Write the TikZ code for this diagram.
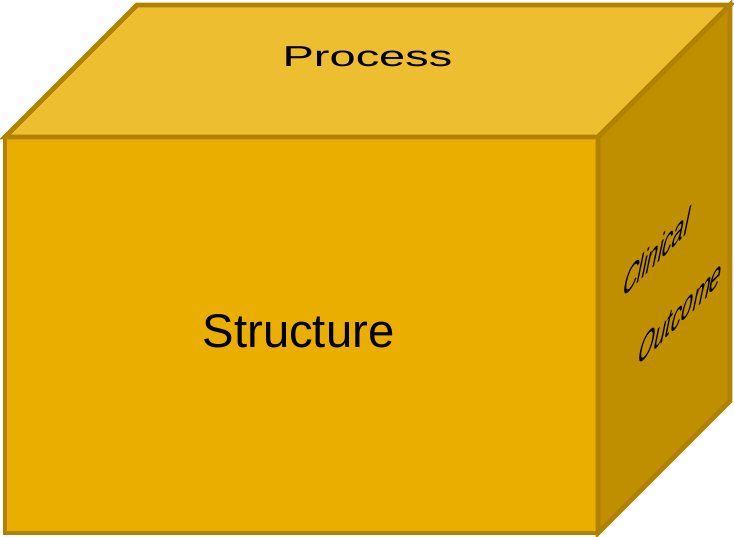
\documentclass[tikz,border=0pt]{standalone}
\usepackage{fontspec}
\setmainfont{Liberation Sans}
\usetikzlibrary{positioning}
\definecolor{cubeedge}{RGB}{176,130,0}
\definecolor{cubefront}{RGB}{234,174,0}
\definecolor{cubetop}{RGB}{237,190,48}
\definecolor{cubeside}{RGB}{191,143,0}

\begin{document}
\begin{tikzpicture}[x=0.02cm, y=-0.02cm, line join=miter,
    face/.style={draw=cubeedge, line width=2.8pt},
    sidetext/.style={font=\fontsize{20}{24}\selectfont, inner sep=0pt,
      cm={0.58,0.58,0.25,1.2,(0,0)}}]
  \useasboundingbox (0,0) rectangle (734,537);
  % corners, 1 unit = 1 px, depth offset (132,-132)
  \coordinate (ftl) at (5,137);
  \coordinate (ftr) at (598,137);
  \coordinate (fbr) at (598,533);
  \coordinate (fbl) at (5,533);
  \coordinate (btl) at (137,5);
  \coordinate (btr) at (730,5);
  \coordinate (bbr) at (730,401);
  \draw[face, fill=cubefront] (ftl) -- (ftr) -- (fbr) -- (fbl) -- cycle;
  \draw[face, fill=cubetop] (ftl) -- (btl) -- (btr) -- (ftr) -- cycle;
  \draw[face, fill=cubeside] (ftr) -- (btr) -- (bbr) -- (fbr) -- cycle;
  \node[anchor=base, xscale=1.63, font=\fontsize{16.4}{20}\selectfont] (process) at (367.5,67) {Process};
  \node[anchor=base, font=\fontsize{26.9}{32}\selectfont] (structure) at (298.5,347) {Structure};
  \node[sidetext] (clinical) at (657,252) {Clinical};
  \node[sidetext] (outcome) at (681,312) {Outcome};
\end{tikzpicture}
\end{document}
